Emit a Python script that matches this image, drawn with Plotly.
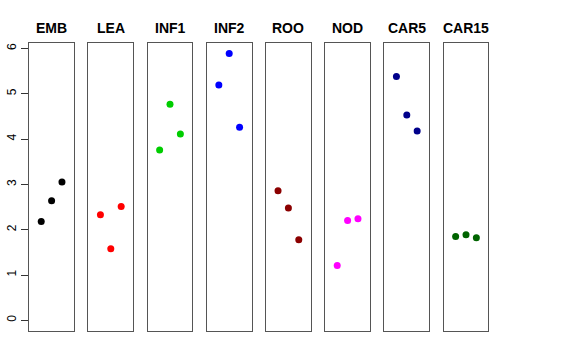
import plotly.graph_objects as go

categories = ["EMB", "LEA", "INF1", "INF2", "ROO", "NOD", "CAR5", "CAR15"]
values = [
    [2.18, 2.64, 3.05],
    [2.33, 1.58, 2.51],
    [3.76, 4.77, 4.11],
    [5.19, 5.89, 4.26],
    [2.86, 2.48, 1.78],
    [1.21, 2.20, 2.24],
    [5.38, 4.53, 4.18],
    [1.85, 1.89, 1.82],
]
colors = ["#000000", "#FF0000", "#00CD00", "#0000FF", "#8B0000", "#FF00FF", "#00008B", "#006400"]
y_ticks = [0, 1, 2, 3, 4, 5, 6]

W, H = 576, 360
left0, pw, step = 29.2, 44.8, 59.2
ytop, ybot = 42.7, 331.0
ymax = max(max(v) for v in values)
ylo, yhi = -0.04 * ymax, 1.04 * ymax

fig = go.Figure()
for i, (cat, vals, col) in enumerate(zip(categories, values, colors)):
    n = i + 1
    xa = "x" if n == 1 else f"x{n}"
    ya = "y" if n == 1 else f"y{n}"
    fig.add_trace(go.Scatter(
        x=[1, 2, 3], y=vals, mode="markers",
        marker=dict(color=col, size=7, line=dict(width=0)),
        xaxis=xa, yaxis=ya, showlegend=False, hoverinfo="skip"))
    x0 = left0 + i * step
    dom = [x0 / W, (x0 + pw) / W]
    xkey = "xaxis" if n == 1 else f"xaxis{n}"
    ykey = "yaxis" if n == 1 else f"yaxis{n}"
    fig.layout[xkey] = dict(domain=dom, range=[-0.16, 4.16], showticklabels=False,
                            ticks="", showgrid=False, zeroline=False, automargin=False,
                            showline=True, mirror=True, linecolor="#555555", linewidth=1,
                            anchor=ya, fixedrange=True)
    ydict = dict(domain=[(H - ybot) / H, (H - ytop) / H], range=[ylo, yhi],
                 showgrid=False, zeroline=False, showline=True, mirror=True, automargin=False,
                 linecolor="#555555", linewidth=1, anchor=xa, fixedrange=True)
    if n == 1:
        ydict.update(tickvals=y_ticks, ticktext=[str(t) for t in y_ticks], ticks="outside",
                     ticklen=7, tickcolor="#333333", tickangle=-90,
                     tickfont=dict(family="Liberation Sans, Arial", size=12, color="#000000"))
    else:
        ydict.update(showticklabels=False, ticks="")
    fig.layout[ykey] = ydict
    fig.add_annotation(text=f"<b>{cat}</b>", x=(x0 + pw / 2) / W, y=(H - 28) / H,
                       xref="paper", yref="paper", showarrow=False,
                       font=dict(family="Liberation Sans, Arial", size=14, color="#000000"),
                       xanchor="center", yanchor="middle")

fig.update_layout(width=W, height=H, margin=dict(l=0, r=0, t=0, b=0, autoexpand=False),
                  paper_bgcolor="white", plot_bgcolor="white")
fig.write_html("out.html", config={"displayModeBar": False},
               post_script="document.body.style.margin='0';document.body.style.overflow='hidden';")
